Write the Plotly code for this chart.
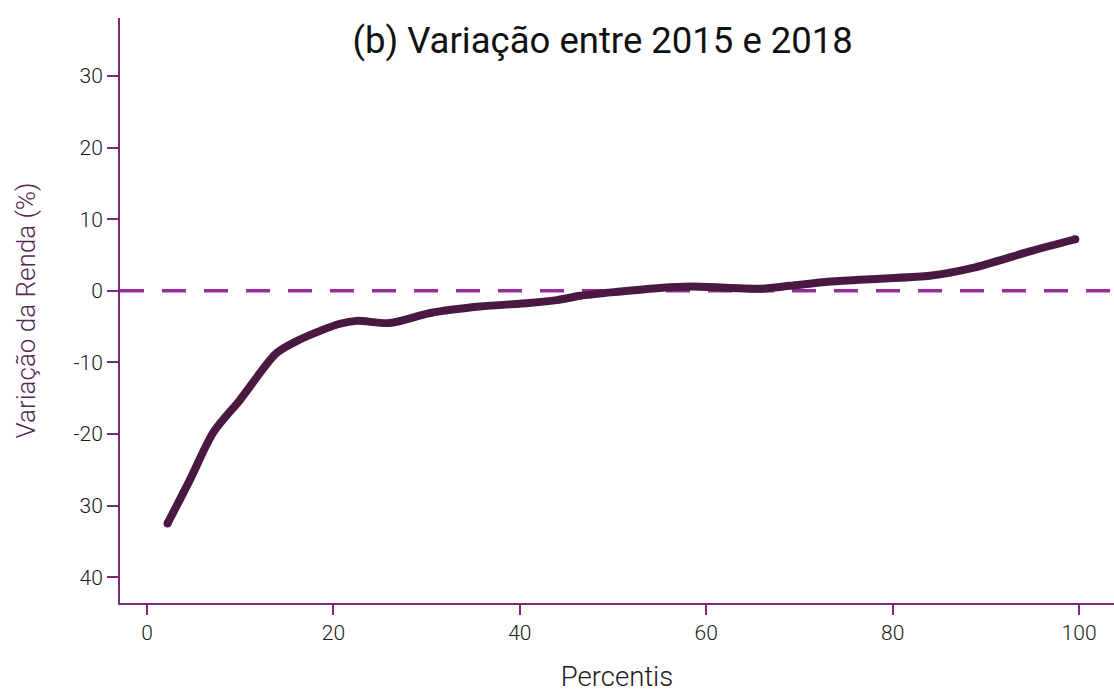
import plotly.graph_objects as go

percentis = [2.2, 4.6, 7.1, 10, 13.9, 16.4, 20.7, 22.5, 26, 30.4, 35.7, 41, 44, 46.5,
             50.8, 55, 58.3, 62.6, 66, 69, 73.3, 78.6, 84, 88.6, 94.7, 99.6]
variacao = [-32.5, -26.4, -19.8, -15.2, -8.7, -6.8, -4.6, -4.2, -4.5, -3.1, -2.2, -1.7, -1.3, -0.7,
            -0.1, 0.4, 0.6, 0.4, 0.3, 0.7, 1.3, 1.7, 2.1, 3.2, 5.5, 7.2]
y_tickvals = [30, 20, 10, 0, -10, -20, -30, -40]
y_ticktext = ["30", "20", "10", "0", "-10", "-20", "30", "40"]
x_tickvals = [0, 20, 40, 60, 80, 100]

LINE = "#4a1942"
AXIS = "#7b2a7b"
DASH = "#962c9c"
FONT = "Roboto, sans-serif"

fig = go.Figure()
fig.add_trace(go.Scatter(
    x=percentis, y=variacao, mode="lines",
    line=dict(color=LINE, width=8, shape="spline", smoothing=0.8),
    hoverinfo="skip", showlegend=False))
fig.add_trace(go.Scatter(
    x=[percentis[0], percentis[-1]], y=[variacao[0], variacao[-1]], mode="markers",
    marker=dict(color=LINE, size=8, line=dict(width=0)),
    hoverinfo="skip", showlegend=False))

fig.add_shape(type="line", xref="paper", x0=0, x1=1, yref="y", y0=0, y1=0,
              line=dict(color=DASH, width=3.5, dash="24px,18px"), layer="below")

fig.update_layout(
    width=1114, height=693,
    margin=dict(l=120, r=0, t=18, b=90, autoexpand=False),
    paper_bgcolor="white", plot_bgcolor="white",
    font=dict(family=FONT, color="#1a1a1a", size=21, weight=300),
    title=dict(text="(b) Variação entre 2015 e 2018", x=0.541, xanchor="center",
               y=0.942, yanchor="middle",
               font=dict(size=36.5, color="#111111", family=FONT, weight=400)),
    xaxis=dict(range=[-2.9, 103.75], tickvals=x_tickvals, showgrid=False, zeroline=False,
               showline=True, linecolor=AXIS, linewidth=2, automargin=False,
               ticks="outside", ticklen=10, tickwidth=2, tickcolor=AXIS,
               tickfont=dict(size=21, color="#1a1a1a", weight=300),
               title=dict(text="Percentis", font=dict(size=27.5, color="#1a1a1a", weight=300),
                          standoff=25)),
    yaxis=dict(range=[-43.6, 38.1], tickvals=y_tickvals, ticktext=y_ticktext,
               showgrid=False, zeroline=False, automargin=False,
               showline=True, linecolor=AXIS, linewidth=2,
               ticks="outside", ticklen=11, tickwidth=2, tickcolor=AXIS,
               tickfont=dict(size=21, color="#1a1a1a", weight=300),
               title=dict(text="Variação da Renda (%)",
                          font=dict(size=26, color="#552855", weight=300), standoff=30)),
)

fig.write_html("out.html", config={"displayModeBar": False},
               post_script="document.body.style.margin='0';document.body.style.overflow='hidden';")
